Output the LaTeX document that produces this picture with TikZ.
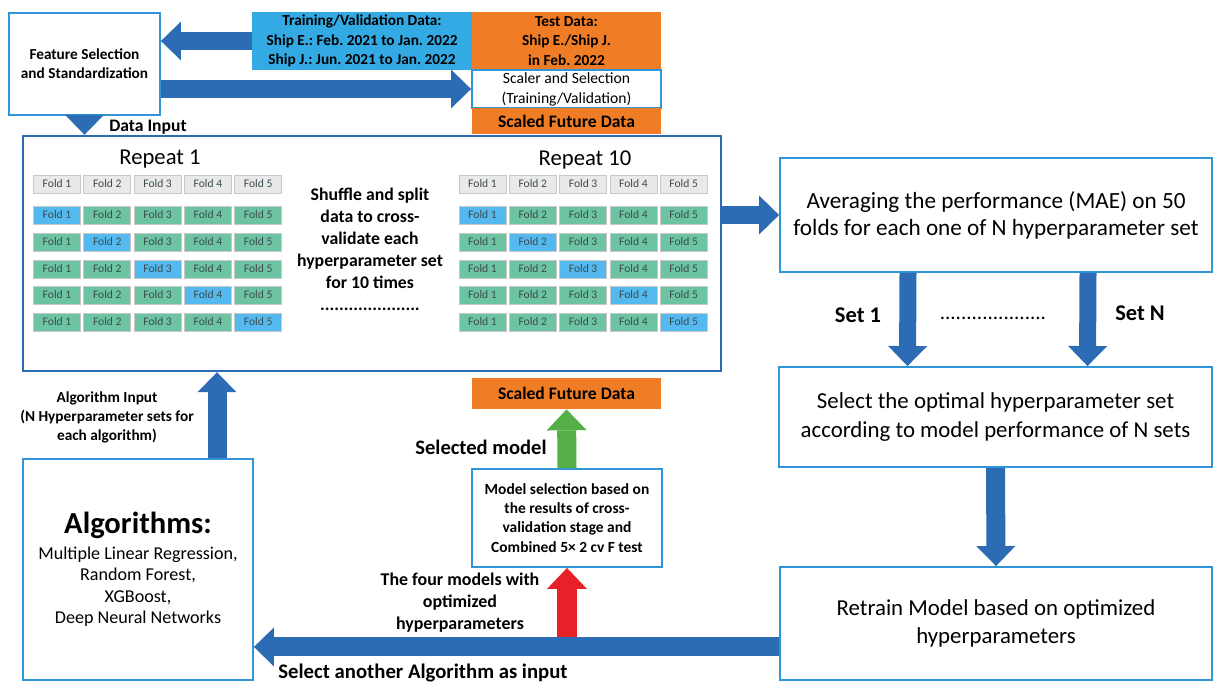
\documentclass[tikz,border=0pt]{standalone}
\usepackage{fontspec}
\setmainfont{Carlito}
\usetikzlibrary{arrows.meta,calc}
\definecolor{arrowblue}{RGB}{43,108,180}
\definecolor{boxblue}{RGB}{48,150,215}
\definecolor{databox}{RGB}{52,170,228}
\definecolor{orangebox}{RGB}{240,125,38}
\definecolor{foldgreen}{RGB}{108,196,162}
\definecolor{foldblue}{RGB}{84,185,238}
\definecolor{foldgray}{RGB}{233,233,233}
\definecolor{foldedge}{RGB}{200,200,200}
\definecolor{foldtext}{RGB}{60,75,80}
\definecolor{arrowgreen}{RGB}{84,176,70}
\definecolor{arrowred}{RGB}{232,32,40}
\newcommand{\fsz}[2]{\fontsize{#1}{#2}\selectfont}
\frenchspacing

\begin{document}
\begin{tikzpicture}[x=0.02cm, y=-0.02cm,
  wbox/.style={draw=boxblue, line width=1.1pt, fill=white, inner sep=0pt, align=center},
  cbox/.style={inner sep=0pt, align=center, font=\fsz{8.7}{11}\bfseries},
  fold/.style={draw=foldedge, line width=0.4pt, minimum width=0.94cm, minimum height=0.36cm, inner sep=0pt, font=\fsz{6.6}{7}, text=foldtext},
  lbl/.style={align=center, inner sep=0pt},
  bigarrow/.style={draw=arrowblue, line width=0.38cm, -{Triangle[width=0.78cm, length=0.4cm, line width'=0pt]}},
  greenarrow/.style={bigarrow, draw=arrowgreen, -{Triangle[width=0.8cm, length=0.42cm, line width'=0pt]}},
  redarrow/.style={bigarrow, draw=arrowred, line width=0.4cm, -{Triangle[width=0.8cm, length=0.42cm, line width'=0pt]}}]
\useasboundingbox (0,0) rectangle (1213,686);
% data preparation
\node[wbox, minimum width=3.02cm, minimum height=2.04cm, font=\fsz{8.7}{10.8}\bfseries] (feat) at (84.5,64) {Feature Selection\\and Standardization};
\node[cbox, fill=databox, minimum width=4.4cm, minimum height=1.16cm] (train) at (362,41) {Training/Validation Data:\\Ship E.: Feb. 2021 to Jan. 2022\\Ship J.: Jun. 2021 to Jan. 2022};
\node[cbox, fill=orangebox, minimum width=3.78cm, minimum height=1.16cm] (test) at (566.5,41) {Test Data:\\Ship E./Ship J.\\in Feb. 2022};
\node[wbox, minimum width=3.78cm, minimum height=0.76cm, font=\fsz{8.9}{11.3}] (scaler) at (566.5,89) {Scaler and Selection\\(Training/Validation)};
\node[cbox, fill=orangebox, minimum width=3.78cm, minimum height=0.52cm, font=\fsz{10}{12}\bfseries] (fut1) at (566.5,121) {Scaled Future Data};
\node[lbl, font=\fsz{10}{12}\bfseries] (datain) at (148,127) {Data Input};
% cross-validation block
\node[draw=arrowblue, line width=1.4pt, minimum width=13.96cm, minimum height=4.7cm, inner sep=0pt] (cv) at (372,253.5) {};
\node[font=\fsz{12.9}{15}] (rep1) at (160,159) {Repeat 1};
\node[font=\fsz{12.9}{15}] (rep10) at (585,160) {Repeat 10};
\node[lbl, font=\fsz{10.1}{12.5}\bfseries] (shuffle) at (370,249) {Shuffle and split\\data to cross-\\validate each\\hyperparameter set\\for 10 times\\.....................};
\foreach \g/\xo in {a/57, b/482.5} {
  \foreach \col in {1,...,5} {
    \node[fold, fill=foldgray] (\g h\col) at ({\xo+50.3*(\col-1)},184) {Fold \col};
    \foreach \row/\yy in {1/215, 2/242, 3/269, 4/295, 5/322} {
      \ifnum\row=\col \def\fc{foldblue}\else\def\fc{foldgreen}\fi
      \node[fold, fill=\fc] (\g\row\col) at ({\xo+50.3*(\col-1)},\yy) {Fold \col};
    }
  }
}
% hyperparameter selection
\node[wbox, minimum width=8.64cm, minimum height=2.28cm, font=\fsz{13.2}{15.3}] (avg) at (996,215) {Averaging the performance (MAE) on 50\\folds for each one of N hyperparameter set};
\node[wbox, minimum width=8.66cm, minimum height=2.0cm, font=\fsz{13}{16.4}] (sel) at (995.5,417) {Select the optimal hyperparameter set\\according to model performance of N sets};
\node[wbox, minimum width=8.64cm, minimum height=2.26cm, font=\fsz{13}{15.8}] (ret) at (996,623.5) {Retrain Model based on optimized\\hyperparameters};
\node[lbl, font=\fsz{12.8}{15}\bfseries] (set1) at (858,315) {Set 1};
\node[lbl, font=\fsz{12.8}{15}\bfseries] (setn) at (1140,313) {Set N};
\node[lbl, font=\fsz{12}{14}] (setdots) at (993,318) {....................};
% algorithms
\node[wbox, minimum width=4.6cm, minimum height=4.42cm, font=\fsz{10.3}{12.2}] (alg) at (138,569.5) {{\fsz{17.4}{20}\bfseries Algorithms:}\\[2.5pt]Multiple Linear Regression,\\Random Forest,\\XGBoost,\\Deep Neural Networks};
\node[lbl, font=\fsz{8.7}{10.8}\bfseries] (alginput) at (107,417) {Algorithm Input\\(N Hyperparameter sets for\\each algorithm)};
% model selection
\node[cbox, fill=orangebox, minimum width=3.78cm, minimum height=0.62cm, font=\fsz{10}{12}\bfseries] (fut2) at (566.5,393.5) {Scaled Future Data};
\node[wbox, minimum width=3.8cm, minimum height=1.96cm, font=\fsz{8.8}{10.9}\bfseries] (msel) at (567,518) {Model selection based on\\the results of cross-\\validation stage and\\Combined 5× 2 cv F test};
\node[lbl, font=\fsz{11.7}{14}\bfseries] (selmodel) at (481,447) {Selected model};
\node[lbl, font=\fsz{10.2}{12.5}\bfseries] (fourmod) at (460,603) {The four models with\\optimized\\hyperparameters};
\node[lbl, font=\fsz{11.8}{14}\bfseries] (another) at (423,673) {Select another Algorithm as input};
% arrows
\draw[bigarrow] (train.west) -- (train.west -| feat.east);
\draw[bigarrow] (feat.east |- scaler.west) -- (scaler.west);
\draw[bigarrow, line width=0.28cm] (feat.south) -- (feat.south |- cv.north);
\draw[bigarrow] (cv.east |- avg.west) -- (avg.west);
\draw[bigarrow, line width=0.34cm] ($(avg.south)+(-88,0)$) -- ($(sel.north)+(-88,0)$);
\draw[bigarrow, line width=0.34cm] ($(avg.south)+(92,0)$) -- ($(sel.north)+(92,0)$);
\draw[bigarrow] (sel.south) -- (ret.north);
\coordinate (ain) at ($(alg.north)+(79,0)$);
\draw[bigarrow] (ain) -- (ain |- cv.south);
\draw[greenarrow] (msel.north) -- (fut2.south);
\coordinate (back) at ($(ret.south west)+(0,-34)$);
\draw[redarrow] (msel.south |- back) -- (msel.south);
\draw[bigarrow] (back) -- (back -| alg.east);
\end{tikzpicture}
\end{document}
